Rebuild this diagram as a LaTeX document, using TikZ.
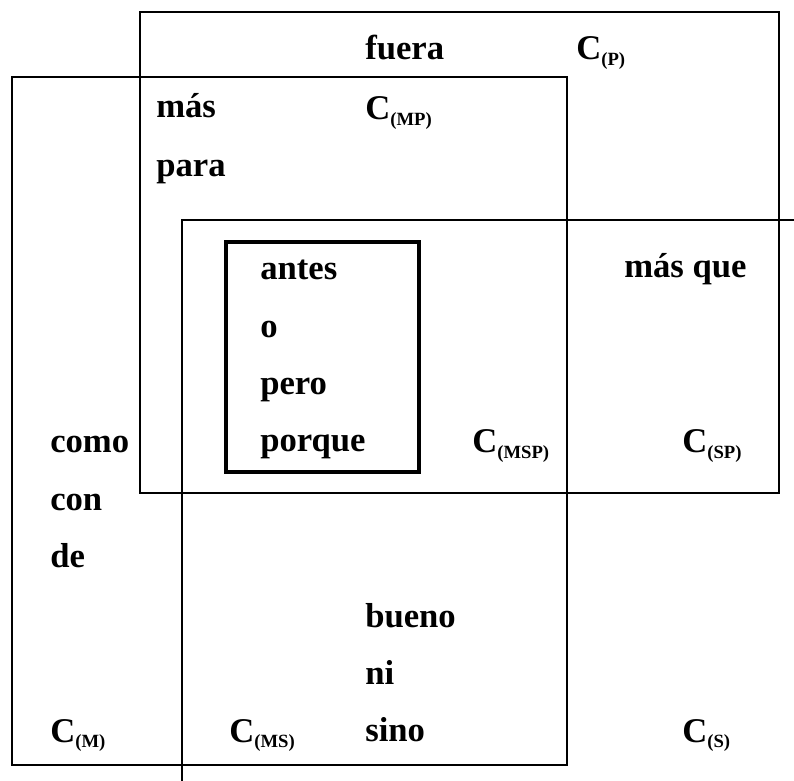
\documentclass[tikz,border=0pt]{standalone}
\usepackage{fontspec}
\setmainfont{Liberation Serif}
\usetikzlibrary{positioning}
\tikzset{word/.style={anchor=base west, inner sep=0pt, font=\fontsize{26}{30}\selectfont\bfseries},
set/.style={line width=2.2pt},
core/.style={line width=3.6pt}
}
\newcommand{\cset}[1]{C\raisebox{-4pt}{\fontsize{14}{14}\selectfont(#1)}}

\begin{document}
\begin{tikzpicture}[x=0.75pt, y=-0.75pt, node distance=43pt]
            \useasboundingbox (0,0) rectangle (794,781);
            \draw[set] (140,12) rectangle (779,493);
            \draw[set] (12,77) rectangle (567,765);
            \draw[set] (794,220) -- (182,220) -- (182,781);
            \draw[core] (226,242) rectangle (419,472);
            \node[word] (fuera) at (365,60) {fuera};
            \node[word] (cP) at (576,60) {\cset{P}};
            \node[word] (mas) at (156,118) {más};
            \node[below=44pt of mas.base west, word] (para) {para};
            \node[word] (cMP) at (365,120) {\cset{MP}};
            \node[word] (antes) at (260,280) {antes};
            \node[below=of antes.base west, word] (o) {o};
            \node[below=of o.base west, word] (pero) {pero};
            \node[below=of pero.base west, word] (porque) {porque};
            \node[word] (masque) at (624,278) {más que};
            \node[word] (como) at (50,453) {como};
            \node[below=of como.base west, word] (con) {con};
            \node[below=of con.base west, word] (de) {de};
            \node[word] (cMSP) at (472,453) {\cset{MSP}};
            \node[word] (cSP) at (682,453) {\cset{SP}};
            \node[word] (bueno) at (365,627) {bueno};
            \node[below=of bueno.base west, word] (ni) {ni};
            \node[below=of ni.base west, word] (sino) {sino};
            \node[word] (cM) at (50,742) {\cset{M}};
            \node[word] (cMS) at (229,742) {\cset{MS}};
            \node[word] (cS) at (682,742) {\cset{S}};
        \end{tikzpicture}
\end{document}
